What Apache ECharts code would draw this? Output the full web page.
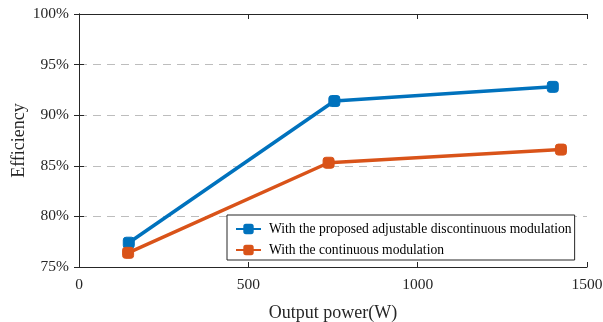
<!DOCTYPE html>
<html><head><meta charset="utf-8">
<script src="https://cdn.jsdelivr.net/npm/echarts@6/dist/echarts.min.js"></script>
<style>html,body{margin:0;padding:0;background:#fff}#c{width:603px;height:322px}</style>
</head><body><div id="c"></div>
<script>
var seriesNames = ['With the proposed adjustable discontinuous modulation', 'With the continuous modulation'];
var proposedPower = [147, 754, 1399];
var proposedEff = [77.4, 91.4, 92.8];
var continuousPower = [145, 737, 1423];
var continuousEff = [76.4, 85.3, 86.6];
var xTicks = [0, 500, 1000, 1500];
var yTicks = [75, 80, 85, 90, 95, 100];

function pairs(xs, ys){ return xs.map(function(x,i){ return [x, ys[i]]; }); }
var font = 'Liberation Serif, Times New Roman, serif';
var axisColor = '#262626';
var chart = echarts.init(document.getElementById('c'));
function mkSeries(name, data, color){
  return {
    name: name, type: 'line', data: data,
    symbol: 'roundRect', symbolSize: 11,
    lineStyle: {width: 3.5, color: color},
    itemStyle: {color: color, borderColor: color},
    emphasis: {disabled: true}
  };
}
chart.setOption({
  animation: false,
  backgroundColor: '#fff',
  grid: {left: 79, right: 16, top: 14, bottom: 55, containLabel: false, outerBoundsMode: 'none'},
  legend: {
    orient: 'vertical', left: 227, top: 215,
    padding: [7, 3, 3, 8], itemGap: 7, itemWidth: 25, itemHeight: 13,
    backgroundColor: '#fff', borderColor: '#262626', borderWidth: 1,
    textStyle: {fontFamily: font, fontSize: 13.6, color: '#000', padding: [0, 0, 0, 3]},
    data: seriesNames
  },
  xAxis: [{
    type: 'value', min: 0, max: 1500, interval: 500,
    name: 'Output power(W)', nameLocation: 'middle', nameGap: 37, nameMoveOverlap: false,
    nameTextStyle: {fontFamily: font, fontSize: 18, color: axisColor},
    axisLine: {show: true, lineStyle: {color: axisColor, width: 1}},
    axisTick: {show: true, inside: true, length: 5, lineStyle: {color: axisColor}},
    axisLabel: {fontFamily: font, fontSize: 15.5, color: axisColor, margin: 10,
      formatter: function(v){ return xTicks.indexOf(v) >= 0 ? String(v) : ''; }},
    splitLine: {show: false}
  }, {
    type: 'value', position: 'top', min: 0, max: 1500, interval: 500,
    axisLine: {show: true, lineStyle: {color: axisColor, width: 1}},
    axisTick: {show: true, inside: true, length: 5, lineStyle: {color: axisColor}},
    axisLabel: {show: false}, splitLine: {show: false}
  }],
  yAxis: [{
    type: 'value', min: 75, max: 100, interval: 5,
    name: 'Efficiency', nameLocation: 'middle', nameGap: 51, nameMoveOverlap: false,
    nameTextStyle: {fontFamily: font, fontSize: 18, color: axisColor},
    axisLine: {show: true, lineStyle: {color: axisColor, width: 1}},
    axisTick: {show: true, inside: true, length: 5, lineStyle: {color: axisColor}},
    axisLabel: {fontFamily: font, fontSize: 15.5, color: axisColor, margin: 10,
      formatter: function(v){ return yTicks.indexOf(v) >= 0 ? v + '%' : ''; }},
    splitLine: {show: true, lineStyle: {color: '#bdbdbd', type: [8, 6], width: 1}}
  }, {
    type: 'value', position: 'right', min: 75, max: 100, interval: 5,
    axisLine: {show: true, lineStyle: {color: axisColor, width: 1}},
    axisTick: {show: true, inside: true, length: 5, lineStyle: {color: axisColor}},
    axisLabel: {show: false}, splitLine: {show: false}
  }],
  series: [
    mkSeries(seriesNames[0], pairs(proposedPower, proposedEff), '#0072BD'),
    mkSeries(seriesNames[1], pairs(continuousPower, continuousEff), '#D95319')
  ]
});
</script></body></html>
